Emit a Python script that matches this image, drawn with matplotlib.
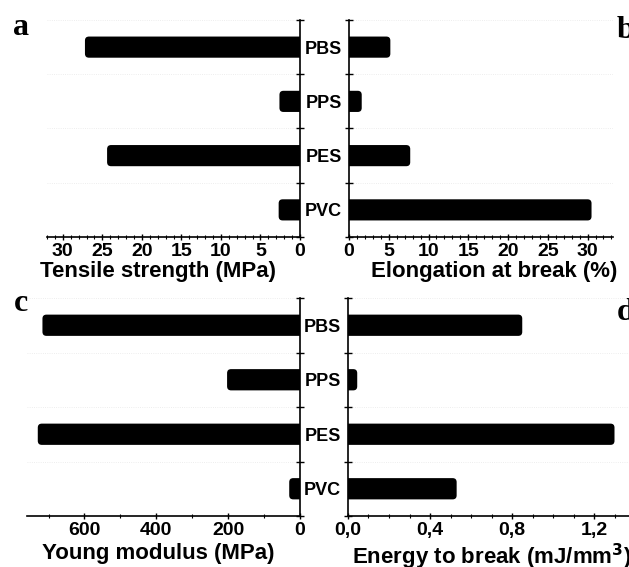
import matplotlib
matplotlib.use("Agg")
import matplotlib.pyplot as plt
from matplotlib.patches import FancyBboxPatch
from matplotlib.ticker import MultipleLocator, FuncFormatter

plt.rcParams['font.family'] = ['Liberation Sans', 'DejaVu Sans']
plt.rcParams['font.weight'] = 'bold'

# Daten (von oben nach unten)
polymers = ["PBS", "PPS", "PES", "PVC"]
tensile_strength = [27.2, 2.6, 24.4, 2.7]        # MPa
elongation = [5.2, 1.6, 7.7, 30.5]               # %
young_modulus = [717, 203, 730, 30]              # MPa
energy_to_break = [0.85, 0.045, 1.30, 0.53]      # mJ/mm3

W, H = 629, 567
fig = plt.figure(figsize=(W / 100, H / 100), dpi=100)


def px_axes(x0, x1, y0, y1):
    return fig.add_axes([x0 / W, 1 - y1 / H, (x1 - x0) / W, (y1 - y0) / H])


def rounded_bars(ax, values, radius_px=4):
    """Balken mit abgerundetem Ende (Ende an der Achse bleibt eckig)."""
    ypos = list(range(len(values)))
    bars = ax.barh(ypos, values, height=0.39, color='black')
    pos = ax.get_position()
    x0, x1 = ax.get_xlim()
    y0, y1 = ax.get_ylim()
    x_upp = abs(x1 - x0) / (pos.width * W)
    y_upp = abs(y1 - y0) / (pos.height * H)
    r = radius_px * x_upp
    for rect in bars.patches:
        rect.set_visible(False)
        x, y, w, h = rect.get_x(), rect.get_y(), rect.get_width(), rect.get_height()
        # nach links über 0 hinaus verlängern -> Clipping an der Achse
        patch = FancyBboxPatch((x - 2 * r, y), w + 2 * r, h,
                               boxstyle=f"round,pad=0,rounding_size={r}",
                               mutation_aspect=y_upp / x_upp,
                               facecolor='black', edgecolor='none', zorder=3)
        ax.add_patch(patch)


def style(ax, values, xmax, major, minor, side, xlabel, label_xy):
    ypos = list(range(len(polymers)))
    ax.set_ylim(len(polymers) - 0.5, -0.5)
    if side == 'left':
        ax.set_xlim(xmax, 0)
        ax.spines['left'].set_visible(False)
        ax.yaxis.tick_right()
        ax.set_yticks(ypos)
        ax.set_yticklabels([])
    else:
        ax.set_xlim(0, xmax)
        ax.spines['right'].set_visible(False)
        ax.set_yticks(ypos)
        ax.set_yticklabels(polymers)
    rounded_bars(ax, values)
    ax.spines['top'].set_visible(False)
    for s in ax.spines.values():
        s.set_linewidth(1.2)
        s.set_zorder(4)
    ax.set_yticks([b - 0.5 for b in range(len(polymers) + 1)], minor=True)
    ax.tick_params(axis='y', which='major', length=0, labelsize=13, pad=5)
    ax.tick_params(axis='y', which='minor', length=6, width=1.0, direction='inout')
    ax.xaxis.set_major_locator(MultipleLocator(major))
    ax.xaxis.set_minor_locator(MultipleLocator(minor))
    ax.tick_params(axis='x', which='major', length=5, width=1.0, direction='inout',
                   labelsize=14, pad=2)
    ax.tick_params(axis='x', which='minor', length=3, width=0.8, direction='inout')
    ax.grid(axis='y', which='minor', color='#e8e8e8', linestyle=':', linewidth=0.6)
    ax.set_xlabel(xlabel, fontsize=16, fontweight='bold', va='top')
    ax.xaxis.set_label_coords(*label_xy)


ax_a = px_axes(47, 300, 20, 237)
style(ax_a, tensile_strength, 32, 5, 1, 'left', "Tensile strength (MPa)", (0.44, -0.112))

ax_b = px_axes(349, 613, 20, 237)
style(ax_b, elongation, 33.2, 5, 1, 'right', "Elongation at break (%)", (0.55, -0.112))

ax_c = px_axes(27, 300, 298, 516)
style(ax_c, young_modulus, 760, 200, 100, 'left', "Young modulus (MPa)", (0.48, -0.125))

ax_d = px_axes(348, 635, 298, 516)
style(ax_d, energy_to_break, 1.4, 0.4, 0.1, 'right', "Energy to break (mJ/mm$^\\mathbf{3}$)",
      (0.5, -0.118))
ax_d.xaxis.set_major_formatter(FuncFormatter(lambda v, p: f"{v:.1f}".replace('.', ',')))

# Panel-Buchstaben
letter_kw = dict(fontsize=23, fontweight='bold', family=['Liberation Serif', 'DejaVu Serif'],
                 va='baseline')
fig.text(13 / W, 1 - 35 / H, "a", **letter_kw)
fig.text(617 / W, 1 - 38 / H, "b", **letter_kw)
fig.text(14 / W, 1 - 311 / H, "c", **letter_kw)
fig.text(617 / W, 1 - 320 / H, "d", **letter_kw)

fig.savefig("out.png", dpi=100)
